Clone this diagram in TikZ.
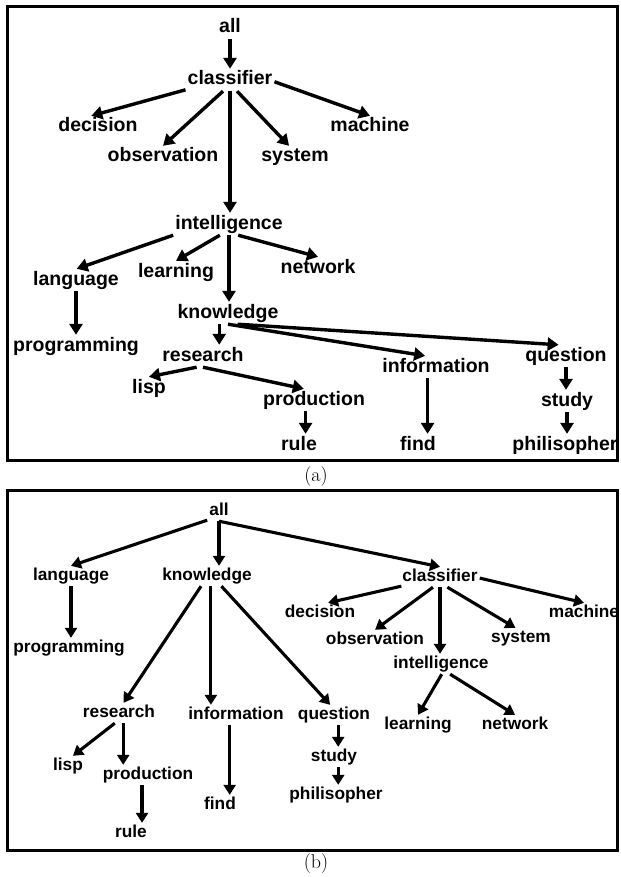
\documentclass[tikz,border=0pt]{standalone}
\usepackage{fontspec}
\newfontfamily\lsans{Liberation Sans}
\usetikzlibrary{arrows.meta}
\newcommand{\wfa}{\lsans\bfseries\fontsize{19.5}{22}\selectfont}
\newcommand{\wfb}{\lsans\bfseries\fontsize{17.3}{20}\selectfont}
\newcommand{\capf}{\fontsize{20}{22}\selectfont}
\begin{document}
\begin{tikzpicture}[scale=0.351459]
\tikzstyle{every node}+=[inner sep=2pt]
\tikzstyle{wa}=[font=\wfa, text height=14pt, text depth=4pt]
\tikzstyle{wb}=[font=\wfb, text height=12.5pt, text depth=3.5pt]
\tikzstyle{arr}=[line width=3.4pt, -{Triangle[length=11pt,width=13pt]}]
\tikzstyle{arrb}=[line width=3.1pt, -{Triangle[length=10pt,width=12pt]}]
\useasboundingbox (0,0) rectangle (62.1,-87.7);
% panel (a)
\draw [line width=3pt] (0.7,-0.7) rectangle (61.7,-46);
\draw (23,-2.8) node [wa] (all) {all};
\draw (23,-8) node [wa] (cls) {classifier};
\draw (9.8,-12.7) node [wa] (dec) {decision};
\draw (37,-12.7) node [wa] (mac) {machine};
\draw (16.3,-15.7) node [wa] (obs) {observation};
\draw (29.5,-15.7) node [wa] (sys) {system};
\draw (22.9,-22.4) node [wa] (int) {intelligence};
\draw (7.6,-28) node [wa] (lan) {language};
\draw (17.6,-27.2) node [wa] (lea) {learning};
\draw (31.8,-26.8) node [wa] (net) {network};
\draw (22.8,-31.3) node [wa] (kno) {knowledge};
\draw (7.6,-34.6) node [wa] (pro) {programming};
\draw (20.3,-35.6) node [wa] (res) {research};
\draw (14.9,-38.8) node [wa] (lis) {lisp};
\draw (31.4,-40) node [wa] (prd) {production};
\draw (29.9,-44.5) node [wa] (rul) {rule};
\draw (43.6,-36.7) node [wa] (inf) {information};
\draw (41.8,-44.5) node [wa] (fin) {find};
\draw (56.6,-35.6) node [wa] (que) {question};
\draw (56.7,-40.1) node [wa] (stu) {study};
\draw (56.5,-44.5) node [wa] (phi) {philisopher};
\draw [arr] (all.south) -- (cls.north);
\draw [arr] ([yshift=4pt]cls.south west) -- ([xshift=-19pt]dec.north);
\draw [arr] ([xshift=-20pt]cls.south) -- (obs.north);
\draw [arr] (cls.south) -- (cls.south |- int.north);
\draw [arr] ([xshift=20pt]cls.south) -- ([xshift=-17pt]sys.north);
\draw [arr] ([yshift=-5pt]cls.east) -- (mac.north);
\draw [arr] (int.south west) -- ([xshift=2pt]lan.north);
\draw [arr] ([xshift=-26pt]int.south) -- (lea.north);
\draw [arr] (int.south) -- (int.south |- kno.north);
\draw [arr] ([xshift=26pt]int.south) -- (net.north);
\draw [arr] (lan.south) -- (lan.south |- pro.north);
\draw [arr] ([xshift=-25pt]kno.south) -- ([xshift=-25pt]kno.south |- res.north);
\draw [arr] (kno.south) -- ([xshift=-31pt]inf.north);
\draw [arr] ([xshift=27pt]kno.south) -- ([xshift=-21pt]que.north);
\draw [arr] ([xshift=-18pt]res.south) -- (lis.north);
\draw [arr] (res.south) -- ([xshift=-29pt]prd.north);
\draw [arr] ([xshift=-24pt]prd.south) -- ([xshift=-24pt]prd.south |- rul.north);
\draw [arr] ([xshift=-24pt]inf.south) -- ([xshift=-24pt]inf.south |- fin.north);
\draw [arr] (que.south) -- (que.south |- stu.north);
\draw [arr] (stu.south) -- (stu.south |- phi.north);
\draw (31.6,-47.7) node [font=\capf] (capa) {(a)};
% panel (b)
\draw [line width=3pt] (0.7,-49) rectangle (61.7,-85);
\draw (21.9,-51.1) node [wb] (all2) {all};
\draw (7.1,-57.6) node [wb] (lan2) {language};
\draw (20.7,-57.6) node [wb] (kno2) {knowledge};
\draw (44,-57.7) node [wb] (cls2) {classifier};
\draw (32,-61.3) node [wb] (dec2) {decision};
\draw (58.4,-61.3) node [wb] (mac2) {machine};
\draw (37.5,-64) node [wb] (obs2) {observation};
\draw (52.1,-63.8) node [wb] (sys2) {system};
\draw (6.9,-64.8) node [wb] (pro2) {programming};
\draw (44.1,-66.4) node [wb] (int2) {intelligence};
\draw (11.9,-71.3) node [wb] (res2) {research};
\draw (23.6,-71.5) node [wb] (inf2) {information};
\draw (33.4,-71.5) node [wb] (que2) {question};
\draw (41.8,-72.5) node [wb] (lea2) {learning};
\draw (51.5,-72.5) node [wb] (net2) {network};
\draw (6.8,-76.6) node [wb] (lis2) {lisp};
\draw (14.8,-77.5) node [wb] (prd2) {production};
\draw (33.4,-75.7) node [wb] (stu2) {study};
\draw (33.6,-79.5) node [wb] (phi2) {philisopher};
\draw (22,-80.5) node [wb] (fin2) {find};
\draw (13.1,-83.3) node [wb] (rul2) {rule};
\draw [arrb] ([yshift=3pt]all2.south west) -- (lan2.north);
\draw [arrb] (all2.south) -- (all2.south |- kno2.north);
\draw [arrb] (all2.south) -- (cls2.north);
\draw [arrb] (lan2.south) -- (lan2.south |- pro2.north);
\draw [arrb] ([xshift=-17pt]kno2.south) -- ([xshift=13pt]res2.north);
\draw [arrb] ([xshift=11pt]kno2.south) -- ([xshift=11pt]kno2.south |- inf2.north);
\draw [arrb] ([xshift=41pt]kno2.south) -- ([xshift=-11pt]que2.north);
\draw [arrb] ([xshift=-12pt]res2.south) -- ([xshift=14pt]lis2.north);
\draw [arrb] ([xshift=12pt]res2.south) -- ([xshift=12pt]res2.south |- prd2.north);
\draw [arrb] ([xshift=-17pt]prd2.south) -- ([xshift=-17pt]prd2.south |- rul2.north);
\draw [arrb] ([xshift=-18pt]inf2.south) -- ([xshift=-18pt]inf2.south |- fin2.north);
\draw [arrb] ([xshift=12pt]que2.south) -- ([xshift=12pt]que2.south |- stu2.north);
\draw [arrb] ([xshift=12pt]stu2.south) -- ([xshift=12pt]stu2.south |- phi2.north);
\draw [arrb] ([shift={(3pt,3pt)}]cls2.south west) -- ([xshift=23pt]dec2.north);
\draw [arrb] ([xshift=-20pt]cls2.south) -- (obs2.north);
\draw [arrb] (cls2.south) -- (cls2.south |- int2.north);
\draw [arrb] ([xshift=21pt]cls2.south) -- ([xshift=-16pt]sys2.north);
\draw [arrb] ([yshift=-3pt]cls2.east) -- (mac2.north);
\draw [arrb] ([xshift=2pt]int2.south) -- (lea2.north);
\draw [arrb] ([xshift=26pt]int2.south) -- (net2.north);
\draw (31.6,-86.3) node [font=\capf] (capb) {(b)};
\end{tikzpicture}
\end{document}
